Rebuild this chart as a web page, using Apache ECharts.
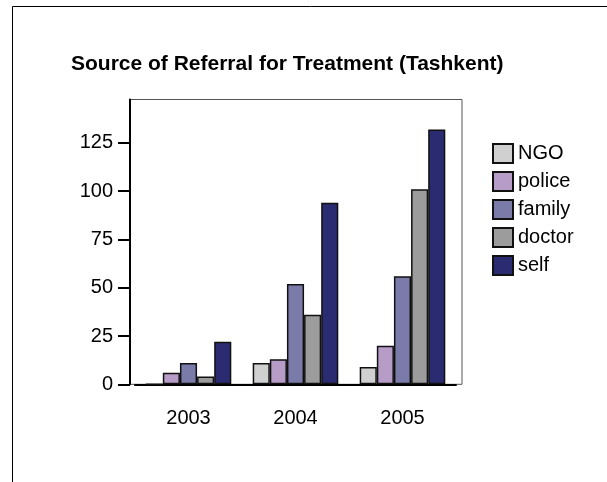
<!DOCTYPE html>
<html>
<head>
<meta charset="utf-8">
<style>
  html, body { margin: 0; padding: 0; background: #fff; }
  #chart { width: 607px; height: 482px; }
</style>
<script src="https://cdn.jsdelivr.net/npm/echarts@6/dist/echarts.min.js"></script>
</head>
<body>
<div id="chart"></div>
<script>
// data
const years = ['2003', '2004', '2005']
const seriesNames = ['NGO', 'police', 'family', 'doctor', 'self']
const ngo = [0, 11, 9]
const police = [6, 13, 20]
const family = [11, 52, 56]
const doctor = [4, 36, 101]
const self = [22, 94, 132]
const yTicks = [0, 25, 50, 75, 100, 125]

const colors = ['#d0d0d0', '#b89cc8', '#7b7baa', '#9c9c9c', '#2b2b72']
const values = [ngo, police, family, doctor, self]

const font = 'Arial, "Liberation Sans", sans-serif'
const yMax = 147.5

const chart = echarts.init(document.getElementById('chart'))

chart.setOption({
  animation: false,
  backgroundColor: '#fff',
  textStyle: { fontFamily: font },
  title: {
    text: 'Source of Referral for Treatment (Tashkent)',
    left: 66,
    top: 49,
    textStyle: { fontSize: 21, fontWeight: 'bold', color: '#000', fontFamily: font }
  },
  graphic: [{
    type: 'rect',
    shape: { x: 12.5, y: 6.5, width: 700, height: 600 },
    style: { fill: 'none', stroke: '#000', lineWidth: 1 },
    silent: true
  }],
  legend: {
    orient: 'vertical',
    left: 487,
    top: 138,
    icon: 'rect',
    itemWidth: 20,
    itemHeight: 19,
    itemGap: 7,
    data: seriesNames,
    textStyle: { fontSize: 20, color: '#000', fontFamily: font }
  },
  grid: [
    { left: 130, right: 145, top: 99.5, bottom: 97.7, show: true, borderColor: '#555', borderWidth: 1 },
    { left: 135, right: 151, top: 99.5, bottom: 97.7 }
  ],
  xAxis: [
    { type: 'category', gridIndex: 0, data: years, show: false },
    {
      type: 'category',
      gridIndex: 1,
      data: years,
      axisLine: { lineStyle: { color: '#000', width: 2 } },
      axisTick: { alignWithLabel: true, length: 13, lineStyle: { color: '#000', width: 2 } },
      axisLabel: { margin: 24, fontSize: 20, color: '#000', fontFamily: font }
    }
  ],
  yAxis: [
    {
      type: 'value',
      gridIndex: 0,
      min: 0,
      max: yMax,
      interval: 25,
      axisLine: { show: true, lineStyle: { color: '#000', width: 2 } },
      axisTick: { show: true, length: 12, customValues: yTicks, lineStyle: { color: '#000', width: 2 } },
      axisLabel: { margin: 17, fontSize: 20, color: '#000', fontFamily: font, customValues: yTicks },
      splitLine: { show: false }
    },
    { type: 'value', gridIndex: 1, min: 0, max: yMax, show: false, splitLine: { show: false } }
  ],
  series: seriesNames.map((name, i) => ({
    name: name,
    type: 'bar',
    xAxisIndex: 1,
    yAxisIndex: 1,
    data: values[i],
    barGap: '0%',
    barCategoryGap: '20%',
    itemStyle: { color: colors[i], borderColor: '#111', borderWidth: 1.5 }
  }))
})

window.addEventListener('resize', () => {
  chart.resize()
})
</script>
</body>
</html>
